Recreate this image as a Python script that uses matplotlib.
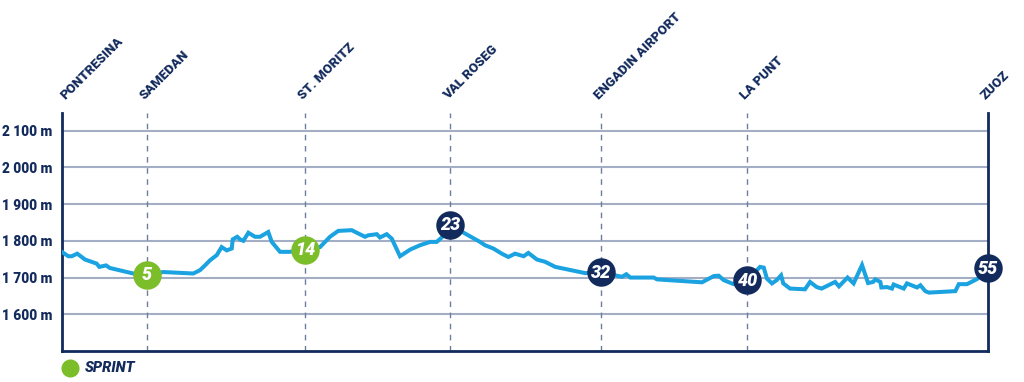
import matplotlib
matplotlib.use("Agg")
import matplotlib.pyplot as plt

# profile: distance (km) and elevation (m)
km = [0.0, 0.36, 0.56, 0.89, 1.35, 2.04, 2.20, 2.60, 2.83, 4.22, 5.02, 6.00,
      7.79, 8.18, 8.48, 8.78, 9.18, 9.47, 9.77, 10.07, 10.13, 10.40, 10.56,
      10.76, 11.06, 11.45, 11.75, 12.24, 12.45, 12.94, 13.53, 14.43, 15.32,
      15.91, 16.40, 17.20, 17.59, 17.99, 18.19, 18.69, 18.88, 19.28, 19.58,
      20.07, 20.67, 21.26, 21.86, 22.25, 22.55, 23.06, 23.93, 24.83, 25.12,
      25.62, 26.12, 26.51, 26.91, 27.42, 27.70, 28.21, 28.69, 29.30, 31.08,
      32.02, 33.27, 33.52, 33.76, 35.15, 35.35, 38.02, 38.72, 39.01, 39.31,
      39.90, 40.72, 41.47, 41.69, 41.88, 42.18, 42.46, 42.72, 42.85, 43.25,
      44.14, 44.44, 44.84, 45.13, 45.93, 46.16, 46.67, 47.03, 47.53, 47.89,
      48.19, 48.32, 48.62, 48.68, 49.02, 49.31, 49.41, 50.01, 50.20, 50.80,
      51.00, 51.29, 51.50, 53.08, 53.28, 53.77, 54.37, 55.0]
elev = [1769, 1758, 1758, 1765, 1749, 1738, 1729, 1733, 1726, 1711, 1708, 1715,
        1711, 1720, 1733, 1747, 1761, 1783, 1774, 1779, 1804, 1811, 1804,
        1800, 1822, 1811, 1811, 1824, 1797, 1770, 1770, 1776, 1783,
        1811, 1827, 1829, 1820, 1811, 1815, 1818, 1809, 1818, 1806,
        1758, 1776, 1788, 1797, 1797, 1809, 1844, 1820, 1797, 1788,
        1779, 1765, 1756, 1765, 1758, 1767, 1749, 1743, 1729, 1712,
        1714, 1702, 1709, 1700, 1700, 1695, 1687, 1704, 1705, 1693,
        1682, 1693, 1729, 1727, 1697, 1684, 1693, 1706, 1684, 1670,
        1668, 1688, 1674, 1670, 1688, 1676, 1700, 1684, 1734, 1685,
        1688, 1695, 1688, 1673, 1674, 1670, 1681, 1670, 1684, 1673,
        1679, 1663, 1659, 1663, 1682, 1682, 1696, 1725]

# places along the route
towns = ["PONTRESINA", "SAMEDAN", "ST. MORITZ", "VAL ROSEG",
         "ENGADIN AIRPORT", "LA PUNT", "ZUOZ"]
town_km = [0.0, 5.02, 14.43, 23.06, 32.02, 40.72, 55.0]

# km markers on the profile
marker_km = [5.02, 14.43, 23.06, 32.02, 40.72, 55.0]
marker_elev = [1708, 1776, 1844, 1714, 1693, 1725]
marker_text = ["5", "14", "23", "32", "40", "55"]
marker_sprint = [True, True, False, False, False, False]

yticks = [1600, 1700, 1800, 1900, 2000, 2100]

NAVY = "#122a5c"
GREEN = "#7cbd2a"
BLUE = "#1aa3e0"
GRID = "#a3adc4"
FONT = ["Roboto", "DejaVu Sans"]

fig = plt.figure(figsize=(10.24, 3.82), dpi=100)
ax = fig.add_axes([62.3 / 1024, 1 - 351 / 382, 925.4 / 1024, 238 / 382])

ax.set_xlim(0, 55)
ax.set_ylim(1500, 2148)

for y in yticks:
    ax.axhline(y, color=GRID, lw=1.5, zorder=1)

for k in town_km[1:-1]:
    ax.axvline(k, color="#6f7d9c", lw=1, dashes=(4, 4), zorder=1)

ax.plot(km, elev, color=BLUE, lw=2.9, zorder=3, solid_joinstyle="miter")

for k, e, t, s in zip(marker_km, marker_elev, marker_text, marker_sprint):
    ax.plot(k, e, "o", ms=20.5, color=GREEN if s else NAVY, mew=0,
            zorder=4, clip_on=False)
    ax.text(k, e - 2, t, color="white", ha="center", va="center",
            fontsize=13, fontweight="black", style="italic", family=FONT,
            zorder=5)

for i, (name, k) in enumerate(zip(towns, town_km)):
    dx = 3 if i == 0 else -2
    ax.annotate(name, xy=(k, 1), xycoords=("data", "axes fraction"),
                xytext=(dx, 13), textcoords="offset pixels",
                rotation=45, rotation_mode="anchor", ha="left",
                va="baseline", fontsize=9.5, fontweight="black", color=NAVY,
                family=FONT, annotation_clip=False)

ax.set_yticks(yticks)
ax.set_yticklabels([f"{y // 1000} {y % 1000:03d} m" for y in yticks],
                   fontsize=9.8, fontweight="black", color=NAVY, family=FONT)
ax.tick_params(axis="y", length=0, pad=7)
ax.set_xticks([])

for side in ["left", "right", "bottom"]:
    ax.spines[side].set_color(NAVY)
    ax.spines[side].set_linewidth(2)
ax.spines["top"].set_visible(False)

# legend
fig.add_artist(plt.Line2D([70 / 1024], [1 - 368 / 382], marker="o",
                          ms=12, color=GREEN, lw=0,
                          transform=fig.transFigure))
fig.text(85 / 1024, 1 - 368 / 382, "SPRINT", ha="left", va="center",
         fontsize=10.5, fontweight="black", style="italic", color=NAVY,
         family=FONT)

fig.savefig("out.png", dpi=100)
